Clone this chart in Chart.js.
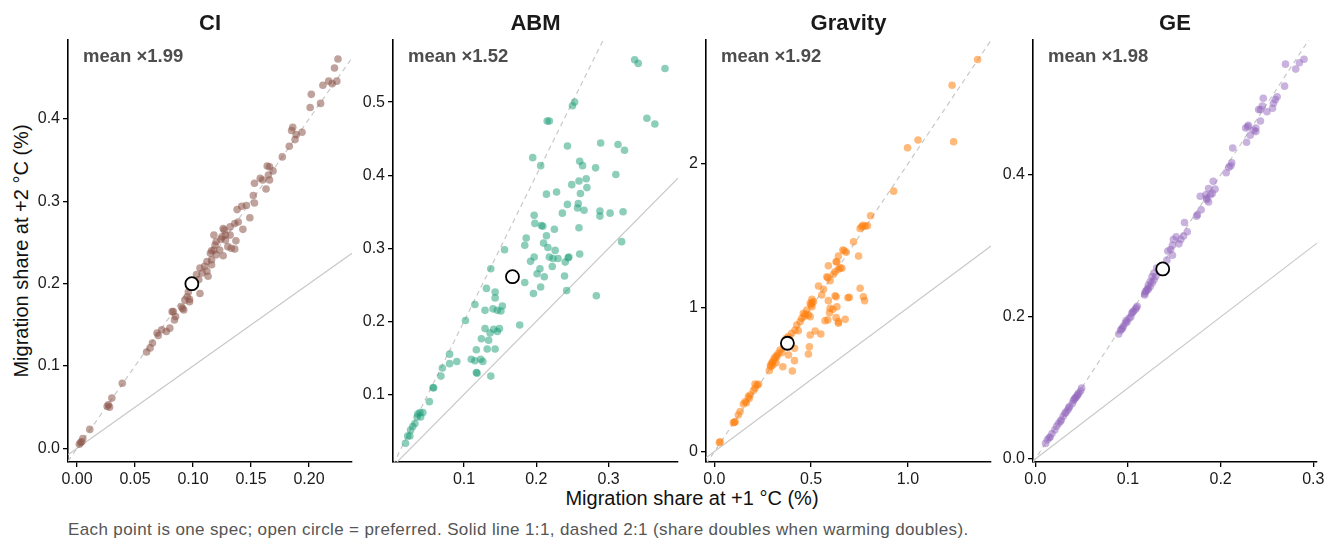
<!DOCTYPE html>
<html>
<head>
<meta charset="utf-8">
<title>Migration share at +1 °C vs +2 °C</title>
<script src="https://cdn.jsdelivr.net/npm/chart.js@4.4.1/dist/chart.umd.min.js"></script>
<style>
  body {
    margin: 0;
    width: 1337px;
    height: 542px;
    position: relative;
    overflow: hidden;
    background: #fff;
    font-family: "Liberation Sans", Arial, sans-serif;
  }
  canvas { position: absolute; top: 0; }
  .y-title {
    position: absolute; left: 21px; top: 251px;
    transform: translate(-50%, -50%) rotate(-90deg);
    font-size: 20px; line-height: 20px; white-space: nowrap; color: #111;
  }
  .x-title {
    position: absolute; left: 692px; top: 498px;
    transform: translate(-50%, -50%);
    font-size: 20px; line-height: 20px; white-space: nowrap; color: #111;
  }
  .caption {
    position: absolute; left: 68px; top: 529px;
    transform: translateY(-50%);
    font-size: 17px; line-height: 17px; letter-spacing: 0.38px; white-space: nowrap; color: #555;
  }
</style>
</head>
<body>
<div class="y-title">Migration share at +2 °C (%)</div>
<div class="x-title">Migration share at +1 °C (%)</div>
<div class="caption">Each point is one spec; open circle = preferred. Solid line 1:1, dashed 2:1 (share doubles when warming doubles).</div>
<script>
// panel names and the mean +2/+1 ratio printed in each panel
const panelNames = ['CI', 'ABM', 'Gravity', 'GE'];
const meanRatios = ['1.99', '1.52', '1.92', '1.98'];

// one entry per spec: [share at +1 °C, share at +2 °C]
const ciPoints = [
  [0.225,0.473],[0.222,0.462],[0.224,0.446],[0.217,0.446],[0.212,0.441],[0.220,0.443],[0.202,0.430],[0.201,0.414],
  [0.210,0.419],[0.186,0.390],[0.185,0.386],[0.189,0.381],[0.194,0.384],[0.188,0.375],[0.183,0.367],[0.177,0.354],
  [0.164,0.343],[0.166,0.342],[0.169,0.337],[0.165,0.332],[0.158,0.328],[0.153,0.322],[0.160,0.326],[0.166,0.326],
  [0.163,0.315],[0.152,0.307],[0.153,0.298],[0.146,0.295],[0.142,0.294],[0.138,0.290],[0.149,0.280],[0.143,0.266],
  [0.136,0.273],[0.132,0.269],[0.127,0.265],[0.128,0.259],[0.124,0.254],[0.120,0.251],[0.118,0.259],[0.116,0.240],
  [0.126,0.234],[0.133,0.243],[0.137,0.252],[0.139,0.275],[0.126,0.267],[0.132,0.259],[0.125,0.257],[0.128,0.253],
  [0.119,0.247],[0.130,0.245],[0.136,0.242],[0.123,0.241],[0.118,0.241],[0.115,0.237],[0.120,0.235],[0.116,0.229],
  [0.112,0.227],[0.116,0.223],[0.110,0.221],[0.106,0.219],[0.112,0.215],[0.108,0.213],[0.103,0.211],[0.113,0.209],
  [0.105,0.205],[0.102,0.201],[0.096,0.190],[0.106,0.188],[0.095,0.184],[0.093,0.180],[0.097,0.178],[0.090,0.172],
  [0.083,0.166],[0.092,0.168],[0.085,0.160],[0.097,0.181],[0.091,0.170],[0.084,0.156],[0.082,0.166],[0.080,0.146],
  [0.077,0.142],[0.073,0.144],[0.069,0.140],[0.070,0.137],[0.065,0.128],[0.063,0.122],[0.060,0.117],[0.039,0.079],
  [0.030,0.061],[0.027,0.053],[0.026,0.051],[0.028,0.050],[0.011,0.023],[0.005,0.012],[0.003,0.007],[0.004,0.008],
  [0.002,0.005]
];
const abmPoints = [
  [0.336,0.558],[0.341,0.553],[0.378,0.546],[0.253,0.500],[0.250,0.495],[0.215,0.474],[0.218,0.474],[0.353,0.478],
  [0.364,0.470],[0.243,0.440],[0.289,0.444],[0.313,0.442],[0.322,0.434],[0.195,0.424],[0.206,0.413],[0.260,0.419],
  [0.264,0.413],[0.282,0.410],[0.310,0.401],[0.259,0.392],[0.269,0.395],[0.270,0.383],[0.249,0.387],[0.228,0.377],
  [0.214,0.374],[0.261,0.375],[0.243,0.360],[0.258,0.361],[0.257,0.355],[0.266,0.352],[0.236,0.348],[0.197,0.345],
  [0.198,0.334],[0.207,0.331],[0.209,0.330],[0.288,0.351],[0.288,0.344],[0.302,0.348],[0.320,0.350],[0.225,0.326],
  [0.259,0.328],[0.214,0.317],[0.186,0.314],[0.184,0.304],[0.210,0.307],[0.216,0.301],[0.156,0.298],[0.226,0.297],
  [0.218,0.288],[0.223,0.286],[0.230,0.286],[0.260,0.292],[0.245,0.288],[0.244,0.287],[0.240,0.281],[0.197,0.288],
  [0.192,0.282],[0.318,0.309],[0.205,0.272],[0.201,0.265],[0.211,0.261],[0.222,0.275],[0.239,0.262],[0.137,0.272],
  [0.184,0.253],[0.196,0.238],[0.206,0.247],[0.242,0.242],[0.283,0.235],[0.131,0.245],[0.143,0.240],[0.143,0.232],
  [0.115,0.223],[0.129,0.215],[0.140,0.217],[0.146,0.215],[0.153,0.221],[0.151,0.214],[0.102,0.201],[0.177,0.195],
  [0.129,0.190],[0.136,0.184],[0.141,0.189],[0.149,0.190],[0.146,0.186],[0.124,0.176],[0.134,0.174],[0.132,0.162],
  [0.143,0.162],[0.117,0.161],[0.080,0.155],[0.110,0.148],[0.115,0.146],[0.123,0.148],[0.126,0.145],[0.080,0.142],
  [0.090,0.145],[0.070,0.136],[0.117,0.130],[0.118,0.129],[0.137,0.125],[0.068,0.125],[0.057,0.109],[0.058,0.109],
  [0.052,0.090],[0.039,0.075],[0.043,0.075],[0.036,0.073],[0.040,0.069],[0.035,0.069],[0.032,0.060],[0.029,0.056],
  [0.026,0.051],[0.022,0.043],[0.025,0.043],[0.019,0.033]
];
const gravityPoints = [
  [1.360,2.725],[1.228,2.546],[1.236,2.153],[0.998,2.111],[1.052,2.165],[0.926,1.810],[0.807,1.639],[0.767,1.572],
  [0.753,1.551],[0.791,1.569],[0.719,1.458],[0.664,1.401],[0.671,1.396],[0.681,1.385],[0.641,1.359],[0.745,1.359],
  [0.633,1.319],[0.650,1.278],[0.641,1.267],[0.589,1.292],[0.615,1.232],[0.581,1.215],[0.762,1.563],[0.779,1.567],
  [0.629,1.319],[0.659,1.274],[0.586,1.208],[0.598,1.188],[0.624,1.250],[0.538,1.151],[0.564,1.128],[0.555,1.088],
  [0.753,1.135],[0.770,1.076],[0.776,1.049],[0.697,1.072],[0.690,1.069],[0.624,1.083],[0.629,1.076],[0.589,1.049],
  [0.633,1.007],[0.598,0.996],[0.586,0.915],[0.629,0.931],[0.641,0.892],[0.676,0.919],[0.504,1.058],[0.495,1.030],
  [0.504,1.007],[0.512,1.042],[0.478,0.984],[0.486,0.949],[0.460,0.961],[0.452,0.926],[0.443,0.903],[0.426,0.880],
  [0.495,0.938],[0.417,0.845],[0.434,0.840],[0.400,0.822],[0.383,0.799],[0.371,0.788],[0.495,0.810],[0.521,0.838],
  [0.550,0.817],[0.491,0.729],[0.486,0.678],[0.414,0.718],[0.383,0.671],[0.414,0.632],[0.354,0.590],[0.403,0.560],
  [0.340,0.706],[0.331,0.683],[0.323,0.660],[0.309,0.637],[0.297,0.614],[0.292,0.590],[0.284,0.563],[0.302,0.602],
  [0.319,0.618],[0.349,0.688],[0.228,0.468],[0.210,0.470],[0.222,0.463],[0.210,0.440],[0.202,0.424],[0.185,0.394],
  [0.176,0.382],[0.159,0.347],[0.150,0.331],[0.133,0.278],[0.124,0.255],[0.107,0.208],[0.098,0.201],[0.026,0.063],
  [0.030,0.069],[0.612,0.989],[0.595,0.965],[0.572,0.910],[0.641,0.903],[0.310,0.650],[0.320,0.665],[0.300,0.625],
  [0.290,0.600],[0.360,0.730],[0.390,0.775],[0.465,0.940],[0.470,0.955],[0.500,1.020],[0.505,1.035],[0.180,0.370],
  [0.165,0.340],[0.104,0.205]
];
const gePoints = [
  [0.290,0.563],[0.285,0.558],[0.281,0.549],[0.270,0.556],[0.269,0.525],[0.246,0.508],[0.261,0.510],[0.259,0.506],
  [0.257,0.501],[0.256,0.494],[0.250,0.489],[0.243,0.492],[0.245,0.497],[0.241,0.492],[0.243,0.476],[0.238,0.466],
  [0.236,0.463],[0.238,0.461],[0.232,0.456],[0.229,0.468],[0.227,0.466],[0.230,0.470],[0.228,0.446],[0.213,0.438],
  [0.212,0.417],[0.211,0.413],[0.209,0.411],[0.206,0.403],[0.192,0.391],[0.187,0.381],[0.194,0.380],[0.184,0.372],
  [0.178,0.370],[0.185,0.367],[0.189,0.372],[0.187,0.362],[0.185,0.365],[0.191,0.374],[0.179,0.351],[0.175,0.344],
  [0.174,0.342],[0.161,0.333],[0.164,0.320],[0.160,0.314],[0.157,0.309],[0.152,0.313],[0.149,0.309],[0.155,0.303],
  [0.148,0.301],[0.146,0.295],[0.143,0.293],[0.148,0.287],[0.142,0.280],[0.131,0.269],[0.128,0.262],[0.126,0.257],
  [0.124,0.250],[0.122,0.245],[0.121,0.240],[0.119,0.236],[0.118,0.231],[0.130,0.257],[0.128,0.252],[0.126,0.248],
  [0.124,0.243],[0.122,0.239],[0.120,0.237],[0.118,0.233],[0.110,0.215],[0.108,0.211],[0.106,0.208],[0.104,0.205],
  [0.103,0.200],[0.101,0.198],[0.099,0.193],[0.097,0.191],[0.095,0.187],[0.094,0.184],[0.092,0.181],[0.090,0.176],
  [0.109,0.213],[0.105,0.207],[0.098,0.195],[0.093,0.183],[0.050,0.100],[0.049,0.096],[0.047,0.093],[0.045,0.089],
  [0.043,0.086],[0.041,0.082],[0.040,0.078],[0.037,0.074],[0.035,0.069],[0.032,0.064],[0.030,0.060],[0.028,0.055],
  [0.025,0.050],[0.023,0.046],[0.021,0.041],[0.018,0.036],[0.016,0.031],[0.013,0.027],[0.011,0.022],[0.046,0.091],
  [0.044,0.087],[0.042,0.084],[0.036,0.072],[0.033,0.066],[0.027,0.053],[0.015,0.030]
];
const panelPoints = [ciPoints, abmPoints, gravityPoints, gePoints];

// preferred spec per panel (open circle)
const preferredPoints = [[0.099, 0.200], [0.167, 0.261], [0.3775, 0.753], [0.1375, 0.2676]];

// axis limits and ticks
const xLimits = [[-0.0078, 0.2371], [0.0017, 0.396], [-0.043, 1.429], [-0.0025, 0.304]];
const yLimits = [[-0.0166, 0.496], [0.0074, 0.585], [-0.072, 2.86], [-0.0042, 0.590]];
const xTicks = [[0, 0.05, 0.1, 0.15, 0.2], [0.1, 0.2, 0.3], [0, 0.5, 1], [0, 0.1, 0.2, 0.3]];
const xTickLabels = [['0.00', '0.05', '0.10', '0.15', '0.20'], ['0.1', '0.2', '0.3'], ['0.0', '0.5', '1.0'], ['0.0', '0.1', '0.2', '0.3']];
const yTicks = [[0, 0.1, 0.2, 0.3, 0.4], [0.1, 0.2, 0.3, 0.4, 0.5], [0, 1, 2], [0, 0.2, 0.4]];
const yTickLabels = [['0.0', '0.1', '0.2', '0.3', '0.4'], ['0.1', '0.2', '0.3', '0.4', '0.5'], ['0', '1', '2'], ['0.0', '0.2', '0.4']];

const FONT = '"Liberation Sans", Arial, sans-serif';
const POINT_COLORS = [
  'rgba(140, 86, 75, 0.55)',   // CI - brown
  'rgba(27, 158, 119, 0.5)',   // ABM - teal green
  'rgba(255, 127, 14, 0.55)',  // Gravity - orange
  'rgba(148, 103, 189, 0.5)'   // GE - purple
];
const REF_LINE = '#c8c8c8';

// panel frame: left axis x and right edge of each plot area (page px)
const AXIS_LEFT = [68, 393, 706, 1033];
const PLOT_RIGHT = [352, 678, 991, 1317];
const PLOT_TOP = 40;
const PLOT_BOTTOM = 462;
const Y_AXIS_W = 60;
const PAD_RIGHT = 14;
const CANVAS_H = 490;

// panel title and "mean ×…" note, drawn over the plot
const panelText = {
  id: 'panelText',
  afterDraw(chart) {
    const { ctx, chartArea } = chart;
    const i = chart.options.panelIndex;
    ctx.save();
    ctx.fillStyle = '#1a1a1a';
    ctx.font = `bold 22px ${FONT}`;
    ctx.textAlign = 'center';
    ctx.textBaseline = 'alphabetic';
    ctx.fillText(panelNames[i], (chartArea.left + chartArea.right) / 2, 29.5);
    ctx.fillStyle = '#4d4d4d';
    ctx.font = `bold 18.5px ${FONT}`;
    ctx.textAlign = 'left';
    ctx.fillText(`mean ×${meanRatios[i]}`, chartArea.left + 15, 62);
    ctx.restore();
  }
};

function axisOptions(limits, ticks, labels, isX) {
  return {
    type: 'linear',
    position: isX ? 'bottom' : 'left',
    min: limits[0],
    max: limits[1],
    border: { display: true, color: '#000', width: 1.6 },
    grid: { display: true, drawOnChartArea: false, drawTicks: true, tickLength: 5, color: '#000', lineWidth: 1.3 },
    ticks: {
      font: { family: FONT, size: 16 },
      color: '#1a1a1a',
      padding: 3,
      maxRotation: 0,
      autoSkip: false,
      callback: (value, index) => labels[index]
    },
    afterBuildTicks: (scale) => {
      scale.ticks = ticks.map(v => ({ value: v }));
    },
    afterFit: (scale) => {
      if (isX) {
        scale.height = CANVAS_H - PLOT_BOTTOM;
      } else {
        scale.width = Y_AXIS_W;
      }
    }
  };
}

function renderPanel(i) {
  const left = AXIS_LEFT[i] - Y_AXIS_W;
  const width = PLOT_RIGHT[i] - left + PAD_RIGHT;
  const canvas = document.createElement('canvas');
  canvas.width = width;
  canvas.height = CANVAS_H;
  canvas.style.left = left + 'px';
  canvas.style.width = width + 'px';
  canvas.style.height = CANVAS_H + 'px';
  document.body.appendChild(canvas);

  const [x0, x1] = xLimits[i];

  new Chart(canvas.getContext('2d'), {
    type: 'scatter',
    data: {
      datasets: [
        {
          label: 'preferred',
          data: [{ x: preferredPoints[i][0], y: preferredPoints[i][1] }],
          pointRadius: 6.5,
          backgroundColor: '#ffffff',
          borderColor: '#000000',
          borderWidth: 1.8,
          order: 0
        },
        {
          label: panelNames[i],
          data: panelPoints[i].map(([x, y]) => ({ x, y })),
          pointRadius: 3.8,
          backgroundColor: POINT_COLORS[i],
          borderWidth: 0,
          order: 1
        },
        {
          // dashed 2:1 line
          label: '2:1',
          data: [{ x: x0, y: 2 * x0 }, { x: x1, y: 2 * x1 }],
          showLine: true,
          pointRadius: 0,
          borderColor: REF_LINE,
          borderWidth: 1.2,
          borderDash: [5, 4],
          clip: 0,
          order: 2
        },
        {
          // solid 1:1 line
          label: '1:1',
          data: [{ x: x0, y: x0 }, { x: x1, y: x1 }],
          showLine: true,
          pointRadius: 0,
          borderColor: REF_LINE,
          borderWidth: 1.2,
          clip: 0,
          order: 3
        }
      ]
    },
    options: {
      panelIndex: i,
      responsive: false,
      animation: false,
      devicePixelRatio: 1,
      events: [],
      layout: { padding: { top: PLOT_TOP, right: PAD_RIGHT, left: 0, bottom: 0 } },
      plugins: {
        legend: { display: false },
        tooltip: { enabled: false }
      },
      scales: {
        x: axisOptions(xLimits[i], xTicks[i], xTickLabels[i], true),
        y: axisOptions(yLimits[i], yTicks[i], yTickLabels[i], false)
      }
    },
    plugins: [panelText]
  });
}

panelNames.forEach((_, i) => renderPanel(i));
</script>
</body>
</html>
